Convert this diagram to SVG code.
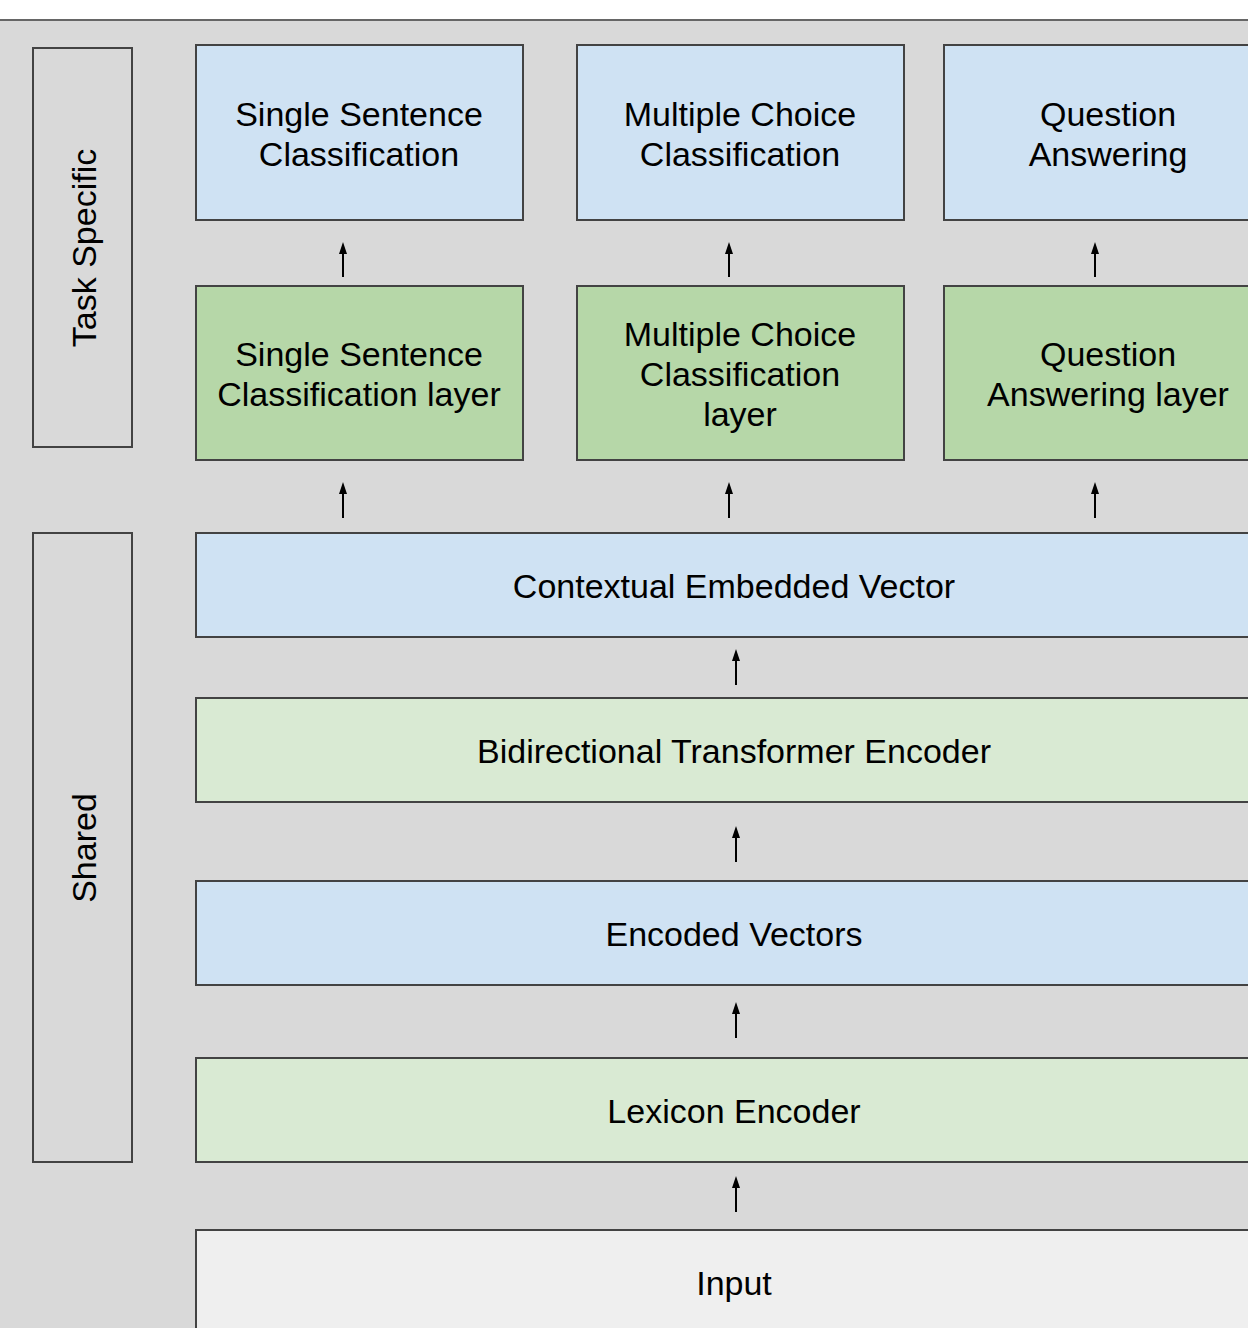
<svg xmlns="http://www.w3.org/2000/svg" width="1248" height="1328" viewBox="0 0 1248 1328">
<style>
.box{stroke:#434343;stroke-width:2}
.blue{fill:#cfe2f3}
.green{fill:#b6d7a8}
.lgreen{fill:#d9ead3}
.side{fill:none}
.input{fill:#efefef}
text{font-family:"Liberation Sans",Arial,sans-serif;font-size:34px;fill:#000;text-anchor:middle}
.conn line{stroke:#000;stroke-width:2}
</style>
<defs>
<marker id="ah" markerWidth="12" markerHeight="8" refX="9" refY="4" orient="auto" markerUnits="userSpaceOnUse" viewBox="0 0 12 8">
<path d="M0,0 L12,4 L0,8 Z" fill="#000"/>
</marker>
</defs>
<rect x="0" y="0" width="1248" height="1328" fill="#ffffff"/>
<rect x="0" y="20" width="1248" height="1308" fill="#d9d9d9"/>
<line x1="0" y1="20" x2="1248" y2="20" stroke="#666" stroke-width="2"/>

<g id="task-specific">
<rect class="box side" x="33" y="48" width="99" height="399"/>
<text transform="translate(96,248) rotate(-90)">Task Specific</text>
</g>
<g id="shared">
<rect class="box side" x="33" y="533" width="99" height="629"/>
<text transform="translate(96,848) rotate(-90)">Shared</text>
</g>

<g id="ssc">
<rect class="box blue" x="196" y="45" width="327" height="175"/>
<text x="359" y="126">Single Sentence</text>
<text x="359" y="166">Classification</text>
</g>
<g id="mcc">
<rect class="box blue" x="577" y="45" width="327" height="175"/>
<text x="740" y="126">Multiple Choice</text>
<text x="740" y="166">Classification</text>
</g>
<g id="qa">
<rect class="box blue" x="944" y="45" width="330" height="175"/>
<text x="1108" y="126">Question</text>
<text x="1108" y="166">Answering</text>
</g>

<g id="ssc-layer">
<rect class="box green" x="196" y="286" width="327" height="174"/>
<text x="359" y="366">Single Sentence</text>
<text x="359" y="406">Classification layer</text>
</g>
<g id="mcc-layer">
<rect class="box green" x="577" y="286" width="327" height="174"/>
<text x="740" y="346">Multiple Choice</text>
<text x="740" y="386">Classification</text>
<text x="740" y="426">layer</text>
</g>
<g id="qa-layer">
<rect class="box green" x="944" y="286" width="330" height="174"/>
<text x="1108" y="366">Question</text>
<text x="1108" y="406">Answering layer</text>
</g>

<g id="contextual">
<rect class="box blue" x="196" y="533" width="1080" height="104"/>
<text x="734" y="598">Contextual Embedded Vector</text>
</g>
<g id="bidirectional">
<rect class="box lgreen" x="196" y="698" width="1080" height="104"/>
<text x="734" y="763">Bidirectional Transformer Encoder</text>
</g>
<g id="encoded">
<rect class="box blue" x="196" y="881" width="1080" height="104"/>
<text x="734" y="946">Encoded Vectors</text>
</g>
<g id="lexicon">
<rect class="box lgreen" x="196" y="1058" width="1080" height="104"/>
<text x="734" y="1123">Lexicon Encoder</text>
</g>
<g id="input">
<rect class="box input" x="196" y="1230" width="1080" height="120"/>
<text x="734" y="1295">Input</text>
</g>

<g class="conn" id="connectors">
<line x1="343" y1="277" x2="343" y2="245" marker-end="url(#ah)"/>
<line x1="729" y1="277" x2="729" y2="245" marker-end="url(#ah)"/>
<line x1="1095" y1="277" x2="1095" y2="245" marker-end="url(#ah)"/>
<line x1="343" y1="518" x2="343" y2="485" marker-end="url(#ah)"/>
<line x1="729" y1="518" x2="729" y2="485" marker-end="url(#ah)"/>
<line x1="1095" y1="518" x2="1095" y2="485" marker-end="url(#ah)"/>
<line x1="736" y1="685" x2="736" y2="652" marker-end="url(#ah)"/>
<line x1="736" y1="862" x2="736" y2="829" marker-end="url(#ah)"/>
<line x1="736" y1="1038" x2="736" y2="1005" marker-end="url(#ah)"/>
<line x1="736" y1="1212" x2="736" y2="1179" marker-end="url(#ah)"/>
</g>
</svg>
